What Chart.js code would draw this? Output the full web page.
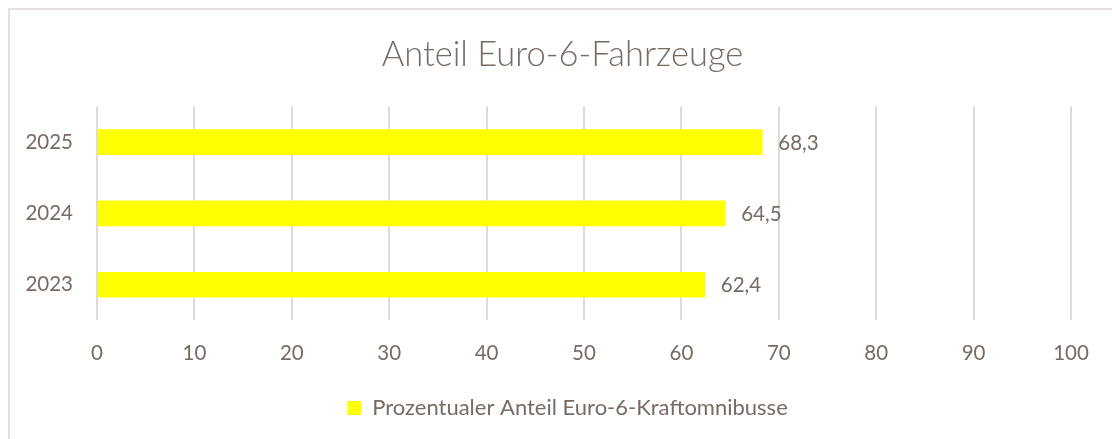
<!DOCTYPE html>
<html>
<head>
<meta charset="utf-8">
<script src="https://cdn.jsdelivr.net/npm/chart.js@4.4.1/dist/chart.umd.min.js"></script>
<style>
  html, body { margin: 0; padding: 0; background: #ffffff; overflow: hidden; }
  #frame { position: absolute; left: 8px; top: 8px; width: 1200px; height: 600px; border: 2px solid #e4e1de; box-sizing: border-box; }
  #wrap { position: absolute; left: 0; top: 0; width: 1112px; height: 439px; }
</style>
</head>
<body>
<div id="frame"></div>
<div id="wrap"><canvas id="c" width="1112" height="439"></canvas></div>
<script>
const categories = ['2023', '2024', '2025'];
const seriesName = 'Prozentualer Anteil Euro-6-Kraftomnibusse';
const values = [62.4, 64.5, 68.3];
const valueLabels = ['62,4', '64,5', '68,3'];
const xTicks = [0, 10, 20, 30, 40, 50, 60, 70, 80, 90, 100];
const titleText = 'Anteil Euro-6-Fahrzeuge';

const textColor = '#776b63';
const gridColor = '#dedad6';
const barColor = '#ffff00';

const dataLabelPlugin = {
  id: 'dataLabels',
  afterDatasetsDraw(chart) {
    const ctx = chart.ctx;
    const meta = chart.getDatasetMeta(0);
    ctx.save();
    ctx.font = '20.5px Lato, "Open Sans", sans-serif';
    ctx.fillStyle = textColor;
    ctx.textAlign = 'left';
    ctx.textBaseline = 'middle';
    meta.data.forEach((bar, i) => {
      ctx.fillText(valueLabels[i], bar.x + 16, bar.y + 1);
    });
    ctx.restore();
  }
};

// Centre title and legend on the whole frame instead of the padded area
const centerShiftPlugin = {
  id: 'centerShift',
  afterLayout(chart) {
    if (chart.titleBlock) { chart.titleBlock.left += 27; chart.titleBlock.right += 27; }
    if (chart.legend) { chart.legend.left += 32; chart.legend.right += 32; }
  }
};

new Chart(document.getElementById('c'), {
  type: 'bar',
  data: {
    labels: categories,
    datasets: [{
      label: seriesName,
      data: values,
      backgroundColor: barColor,
      borderWidth: 0,
      barThickness: 25
    }]
  },
  options: {
    indexAxis: 'y',
    responsive: false,
    animation: false,
    devicePixelRatio: 1,
    layout: { padding: { left: 0, right: 41, top: 0, bottom: 10 } },
    scales: {
      x: {
        min: 0,
        max: 100,
        afterBuildTicks(scale) { scale.ticks = xTicks.map(v => ({ value: v })); },
        grid: { color: gridColor, lineWidth: 2, drawTicks: false },
        border: { display: false },
        ticks: { color: textColor, font: { family: 'Lato, "Open Sans", sans-serif', size: 20.5 }, padding: 21 }
      },
      y: {
        reverse: true,
        afterFit(scale) { scale.width = 97; },
        grid: { display: false, drawTicks: false },
        border: { display: false },
        ticks: { color: textColor, font: { family: 'Lato, "Open Sans", sans-serif', size: 20.5 }, padding: 24 }
      }
    },
    plugins: {
      title: {
        display: true,
        text: titleText,
        color: textColor,
        font: { family: 'Lato, "Open Sans", sans-serif', size: 34.5, weight: 300 },
        padding: { top: 34, bottom: 31 }
      },
      legend: {
        display: true,
        position: 'bottom',
        labels: {
          color: textColor,
          font: { family: 'Lato, "Open Sans", sans-serif', size: 22 },
          boxWidth: 14,
          boxHeight: 14,
          padding: 10
        }
      },
      tooltip: { enabled: false }
    }
  },
  plugins: [dataLabelPlugin, centerShiftPlugin]
});
</script>
</body>
</html>
